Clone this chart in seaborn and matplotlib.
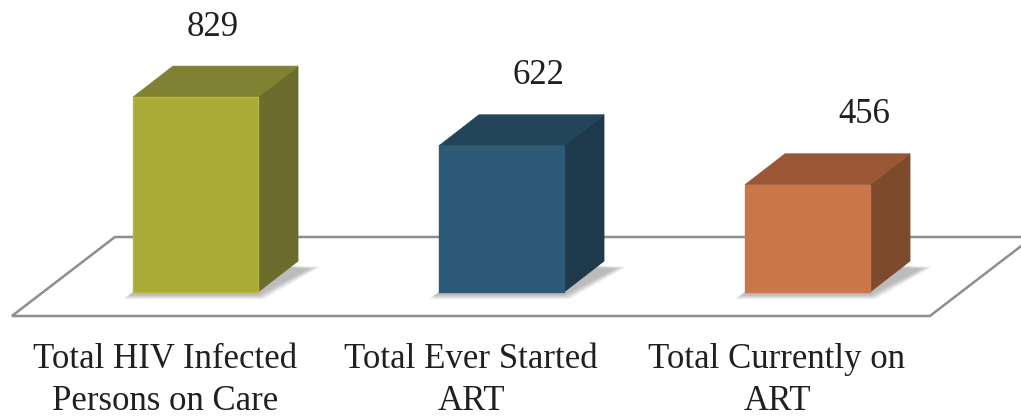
import matplotlib
matplotlib.use("Agg")
import matplotlib.pyplot as plt
from matplotlib.patches import Polygon
import seaborn as sns
import pandas as pd
import numpy as np

# ---- data ----
categories = ["Total HIV Infected\nPersons on Care",
              "Total Ever Started\nART",
              "Total Currently on\nART"]
values = [829, 622, 456]
front_colors = ["#A9AB38", "#2D5B77", "#C8764A"]
side_colors = ["#6C6C2D", "#1E394C", "#7E4A2C"]
top_colors = ["#808133", "#234559", "#9A5735"]
edge_colors = ["#B5B83A", "#2D5B77", "#C8764A"]

df = pd.DataFrame({"category": categories, "value": values})

sns.set_theme(style="white")
plt.rcParams["font.family"] = ["Liberation Serif", "DejaVu Serif"]

W, H = 1021, 418
fig = plt.figure(figsize=(W / 100, H / 100), dpi=100)
ax = fig.add_axes([0, 0, 1, 1])

# scale: 306 px per category, 0.235 px per value unit
px_cat = 306.0
px_val = 0.235
x0_px = 195.5   # pixel x of first category centre
y0_px = 292.0   # pixel y (from top) of value zero

bar_w = 125 / px_cat
sns.barplot(data=df, x="category", y="value", hue="category",
            palette=front_colors, width=bar_w, legend=False, ax=ax,
            saturation=1, zorder=5, linewidth=1.0)
ax.set_xlim(-x0_px / px_cat, (W - x0_px) / px_cat)
ax.set_ylim(-(H - y0_px) / px_val, y0_px / px_val)

# depth of bars
ddx = 40 / px_cat
ddy = 31 / px_val

# floor parallelogram
f_front_y = -24 / px_val
f_back_y = 55 / px_val
f_dx = 103 / px_cat
f_left = -0.6
f_right = 2.4
floor = Polygon([(f_left, f_front_y), (f_right, f_front_y),
                 (f_right + f_dx, f_back_y), (f_left + f_dx, f_back_y)],
                closed=True, facecolor="white", edgecolor="#8E8E8E",
                linewidth=1.8, zorder=1)
ax.add_patch(floor)

for i, p in enumerate(ax.patches[:len(values)]):
    x = p.get_x()
    w = p.get_width()
    h = p.get_height()
    p.set_edgecolor(edge_colors[i])
    # shadow (soft, layered)
    for k in range(9):
        g = k * 1.5
        gx = g / px_cat
        gy = g / px_val
        sh = Polygon([(x - 0.01 - gx * 0.6, -3 / px_val - gy * 0.35),
                      (x + w + gx * 0.5, -3 / px_val - gy * 0.35),
                      (x + w + ddx + 0.035 + gx, ddy - 8 / px_val + gy * 0.2),
                      (x + ddx, ddy)],
                     closed=True, facecolor="#555555", edgecolor="none",
                     alpha=0.05, zorder=2)
        ax.add_patch(sh)
    # side face
    side = Polygon([(x + w, 0), (x + w + ddx, ddy),
                    (x + w + ddx, h + ddy), (x + w, h)],
                   closed=True, facecolor=side_colors[i],
                   edgecolor=side_colors[i], linewidth=0.6, zorder=4)
    ax.add_patch(side)
    # top face
    top = Polygon([(x, h), (x + w, h), (x + w + ddx, h + ddy), (x + ddx, h + ddy)],
                  closed=True, facecolor=top_colors[i],
                  edgecolor=top_colors[i], linewidth=0.6, zorder=4)
    ax.add_patch(top)
    # value label
    cx = x + w / 2 + (17 + 20 * i) / px_cat
    ax.text(cx, h + ddy + 39 / px_val, f"{values[i]}", ha="center",
            va="center", fontsize=25, color="#231F20", zorder=6)

# category labels centred on floor front edge segments
seg = (f_right - f_left) / len(categories)
for i, c in enumerate(categories):
    ax.text(f_left + seg * (i + 0.5), f_front_y - 27 / px_val, c,
            ha="center", va="top", fontsize=25, color="#231F20",
            linespacing=1.36)

ax.set_axis_off()
fig.savefig("out.png", dpi=100)
